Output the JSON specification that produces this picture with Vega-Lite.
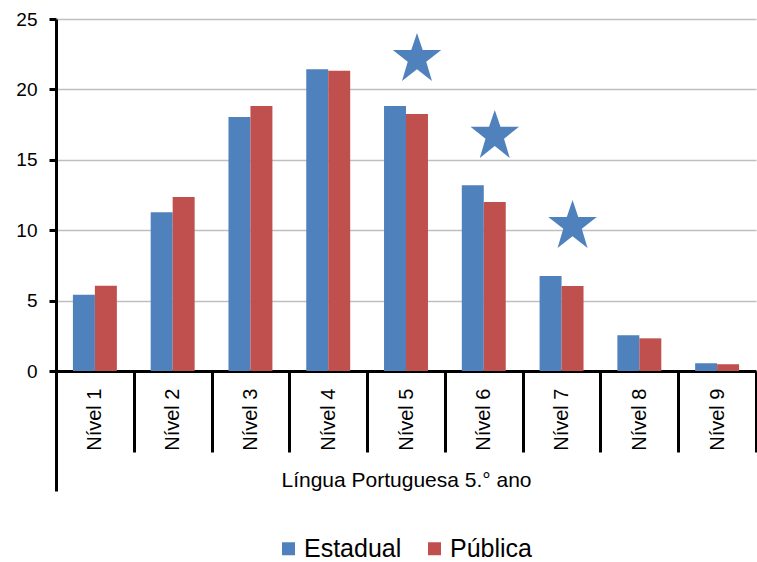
{
  "$schema": "https://vega.github.io/schema/vega-lite/v6.json",
  "width": 700,
  "height": 352,
  "autosize": {"type": "none"},
  "padding": {"left": 56, "top": 19, "right": 1, "bottom": 191},
  "background": "white",
  "config": {"font": "Liberation Sans", "view": {"stroke": null}},
  "datasets": {
    "barras": [
      {"nivel": "Nível 1", "serie": "Estadual", "valor": 5.42},
      {"nivel": "Nível 1", "serie": "Pública", "valor": 6.06},
      {"nivel": "Nível 2", "serie": "Estadual", "valor": 11.27},
      {"nivel": "Nível 2", "serie": "Pública", "valor": 12.36},
      {"nivel": "Nível 3", "serie": "Estadual", "valor": 18.04},
      {"nivel": "Nível 3", "serie": "Pública", "valor": 18.82},
      {"nivel": "Nível 4", "serie": "Estadual", "valor": 21.43},
      {"nivel": "Nível 4", "serie": "Pública", "valor": 21.33},
      {"nivel": "Nível 5", "serie": "Estadual", "valor": 18.82},
      {"nivel": "Nível 5", "serie": "Pública", "valor": 18.25},
      {"nivel": "Nível 6", "serie": "Estadual", "valor": 13.19},
      {"nivel": "Nível 6", "serie": "Pública", "valor": 12.0},
      {"nivel": "Nível 7", "serie": "Estadual", "valor": 6.75},
      {"nivel": "Nível 7", "serie": "Pública", "valor": 6.04},
      {"nivel": "Nível 8", "serie": "Estadual", "valor": 2.54},
      {"nivel": "Nível 8", "serie": "Pública", "valor": 2.32},
      {"nivel": "Nível 9", "serie": "Estadual", "valor": 0.55},
      {"nivel": "Nível 9", "serie": "Pública", "valor": 0.48}
    ],
    "estrelas": [
      {"nivel": "Nível 5", "serie": "Pública", "valor": 22.19},
      {"nivel": "Nível 6", "serie": "Pública", "valor": 16.73},
      {"nivel": "Nível 7", "serie": "Pública", "valor": 10.33}
    ],
    "grupo": [{"grupo": "Língua Portuguesa 5.° ano"}]
  },
  "layer": [
    {
      "layer": [
        {
          "data": {"name": "barras"},
          "mark": {"type": "bar"},
          "encoding": {
            "x": {
              "field": "nivel", "type": "nominal",
              "scale": {"domain": ["Nível 1","Nível 2","Nível 3","Nível 4","Nível 5","Nível 6","Nível 7","Nível 8","Nível 9"], "paddingInner": 0, "paddingOuter": 0},
              "axis": {
                "title": null, "orient": "bottom", "grid": false,
                "labelAngle": -90, "labelAlign": "right", "labelBaseline": "middle",
                "labelFontSize": 20, "labelColor": "black", "labelPadding": -64,
                "tickBand": "extent", "tickSize": 81, "tickWidth": 3, "tickColor": "black",
                "domainColor": "black", "domainWidth": 3
              }
            },
            "xOffset": {
              "field": "serie", "type": "nominal",
              "scale": {"domain": ["Estadual", "Pública"], "paddingInner": 0, "paddingOuter": 0.77}
            },
            "y": {
              "field": "valor", "type": "quantitative",
              "scale": {"domain": [0, 25], "nice": false, "padding": 0},
              "axis": {
                "title": null, "values": [0, 5, 10, 15, 20, 25],
                "labelFontSize": 19, "labelColor": "black", "labelPadding": 12,
                "tickSize": 7, "tickWidth": 3, "tickColor": "black",
                "domainColor": "black", "domainWidth": 3,
                "gridColor": "#BFBFBF", "gridWidth": 1.5
              }
            },
            "color": {
              "field": "serie", "type": "nominal",
              "scale": {"domain": ["Estadual", "Pública"], "range": ["#4F81BD", "#C0504D"]},
              "legend": {
                "orient": "none", "legendX": 220, "legendY": 517, "direction": "horizontal", "title": null,
                "labelFontSize": 25, "labelColor": "black", "padding": 0, "labelLimit": 0,
                "symbolType": "square", "symbolSize": 169, "symbolStrokeWidth": 0, "symbolOpacity": 1,
                "labelOffset": 3, "columnPadding": 20
              }
            }
          }
        },
        {
          "data": {"name": "estrelas"},
          "mark": {
            "type": "point", "filled": true, "opacity": 1, "strokeWidth": 0,
            "color": "#4F81BD", "size": 2600, "dx": 4,
            "shape": "M0,-1L0.2245,-0.337L0.951,-0.337L0.363,0.129L0.588,0.882L0,0.416L-0.588,0.882L-0.363,0.129L-0.951,-0.337L-0.2245,-0.337Z"
          },
          "encoding": {
            "x": {"field": "nivel", "type": "nominal"},
            "xOffset": {"field": "serie", "type": "nominal"},
            "y": {"field": "valor", "type": "quantitative"}
          }
        }
      ]
    },
    {
      "data": {"name": "grupo"},
      "mark": {"type": "text", "text": ""},
      "encoding": {
        "x": {
          "field": "grupo", "type": "nominal",
          "scale": {"paddingInner": 0, "paddingOuter": 0},
          "axis": {
            "orient": "bottom", "title": null, "domain": false, "grid": false,
            "tickBand": "extent", "tickSize": 120, "tickWidth": 3,
            "tickColor": {"condition": {"test": "datum.extra", "value": "black"}, "value": "transparent"},
            "labelFontSize": 21, "labelColor": "black", "labelAngle": 0, "labelLimit": 0,
            "labelBaseline": "alphabetic", "labelPadding": -5
          }
        }
      }
    }
  ],
  "resolve": {"scale": {"x": "independent"}, "axis": {"x": "independent"}}
}
